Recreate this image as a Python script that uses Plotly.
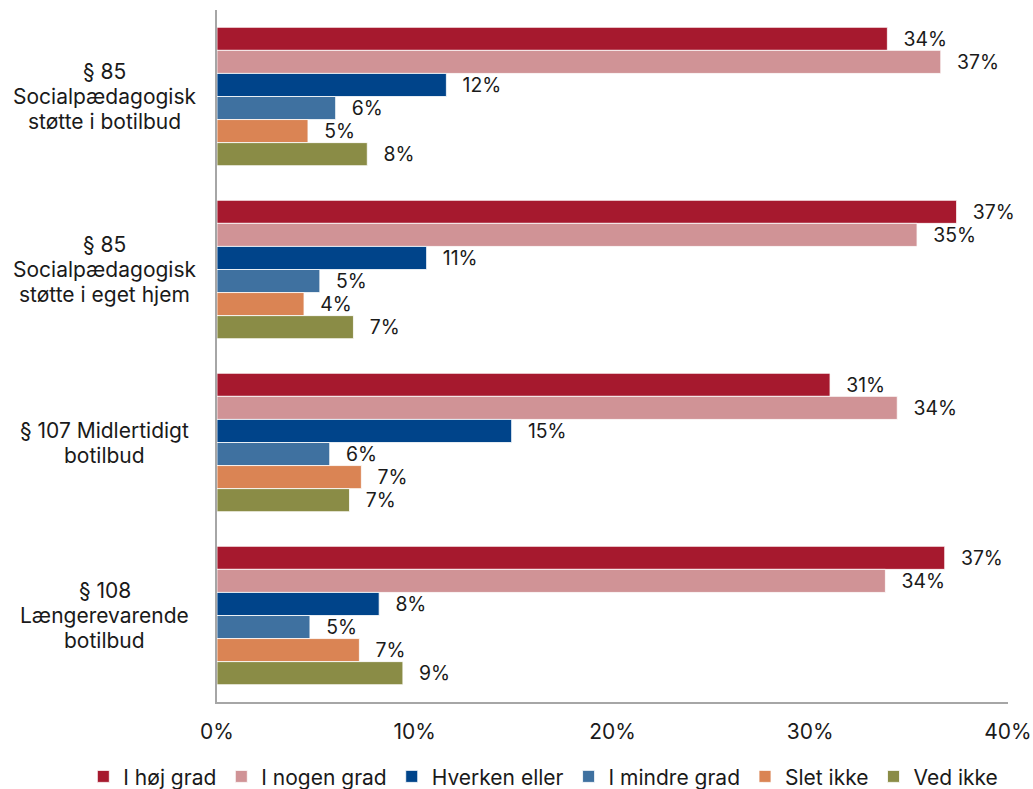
import plotly.graph_objects as go

categories = [
    "§ 85<br>Socialpædagogisk<br>støtte i botilbud",
    "§ 85<br>Socialpædagogisk<br>støtte i eget hjem",
    "§ 107 Midlertidigt<br>botilbud",
    "§ 108<br>Længerevarende<br>botilbud",
]
series_names = ["I høj grad", "I nogen grad", "Hverken eller", "I mindre grad", "Slet ikke", "Ved ikke"]
colors = ["#A6192E", "#D09396", "#00448A", "#3F71A0", "#DA8454", "#8A8C46"]

hoej_grad = [0.339, 0.374, 0.310, 0.368]
nogen_grad = [0.366, 0.354, 0.344, 0.338]
hverken_eller = [0.116, 0.106, 0.149, 0.082]
mindre_grad = [0.060, 0.052, 0.057, 0.047]
slet_ikke = [0.046, 0.044, 0.073, 0.072]
ved_ikke = [0.076, 0.069, 0.067, 0.094]

x_ticks = [0, 0.1, 0.2, 0.3, 0.4]
x_tick_labels = ["0%", "10%", "20%", "30%", "40%"]

values = [hoej_grad, nogen_grad, hverken_eller, mindre_grad, slet_ikke, ved_ikke]

FONT = "Inter, Open Sans, sans-serif"
TXT = "#1a1a1a"
FS = 21
LINE_H = 25

fig = go.Figure()
for name, vals, col in zip(series_names, values, colors):
    fig.add_trace(go.Bar(
        y=categories, x=vals, name=name, orientation="h",
        marker=dict(color=col, line=dict(color="white", width=0.8)),
        text=["\u2002\u2009" + f"{round(v*100)}%" for v in vals],
        textposition="outside", cliponaxis=False,
        textfont=dict(family=FONT, size=FS, color=TXT),
        hoverinfo="x+name",
    ))

# category labels, centred multi-line (one annotation per line for tighter spacing)
for cat in categories:
    lines = cat.split("<br>")
    n = len(lines)
    for i, line in enumerate(lines):
        fig.add_annotation(x=-0.142, xref="paper", y=cat, yref="y", text=line,
                           showarrow=False, align="center", xanchor="center",
                           yanchor="middle", yshift=((n - 1) / 2 - i) * LINE_H,
                           font=dict(family=FONT, size=FS, color=TXT))

fig.update_layout(
    barmode="group", bargap=0.2, bargroupgap=0,
    width=1033, height=789,
    margin=dict(l=217, r=25, t=10, b=87, autoexpand=False),
    plot_bgcolor="white", paper_bgcolor="white",
    font=dict(family=FONT, size=FS, color=TXT),
    xaxis=dict(range=[0, 0.40], tickvals=x_ticks, ticktext=x_tick_labels,
               showgrid=False, zeroline=False, showline=True,
               linecolor="#A6A6A6", linewidth=1.5, ticks="", ticklabelstandoff=10,
               tickfont=dict(family=FONT, size=FS, color=TXT)),
    yaxis=dict(autorange="reversed", showticklabels=False, showgrid=False,
               showline=True, linecolor="#A6A6A6", linewidth=1.5, ticks=""),
    legend=dict(orientation="h", x=-0.169, xanchor="left", y=-0.108, yanchor="middle",
                font=dict(family=FONT, size=FS, color=TXT),
                itemwidth=30, tracegroupgap=0, traceorder="normal"),
    showlegend=True,
)

fig.write_html("out.html", config={"displayModeBar": False},
               post_script="document.body.style.margin='0';")
